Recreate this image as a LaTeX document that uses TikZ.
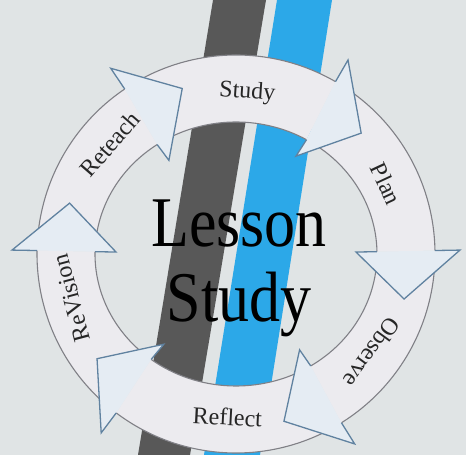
\documentclass[tikz,border=0pt]{standalone}
\usepackage{fontspec}
\setmainfont{Liberation Serif}
\definecolor{bggray}{RGB}{224,228,229}
\definecolor{stripegray}{RGB}{88,88,88}
\definecolor{stripeblue}{RGB}{44,168,232}
\definecolor{ringfill}{RGB}{236,235,239}
\definecolor{ringline}{RGB}{128,128,134}
\definecolor{headfill}{RGB}{229,236,243}
\definecolor{headline}{RGB}{96,130,160}
\definecolor{labelgray}{RGB}{38,38,38}
\tikzset{
  ringpart/.style={fill=ringfill},
  ringedge/.style={draw=ringline, line width=1.1pt},
  headpart/.style={fill=headfill, draw=headline, line width=1.3pt, line join=miter},
  cyclelabel/.style={text=labelgray, font=\fontsize{24}{26}\selectfont, inner sep=0pt},
  bigword/.style={font=\fontsize{62}{70}\selectfont, anchor=base, yscale=1.15, transform shape, inner sep=0pt}
}
\begin{document}
\begin{tikzpicture}[x=1pt,y=1pt]
		\useasboundingbox (0,0) rectangle (466,455);
		\fill[bggray] (0,0) rectangle (466,455);
		\fill[stripegray] (138,0) -- (190,0) -- (266,455) -- (213,455) -- cycle;
		\fill[stripeblue] (204,0) -- (260,0) -- (332,455) -- (277,455) -- cycle;
		
		\begin{scope}[shift={(236,201)}]
		% ring pieces
		\foreach \b/\e in {124/179, 60/124, 1/60, -58/1, -127/-58, -181/-127} {
			\fill[ringpart] (\b:199pt) arc[start angle=\b, end angle=\e, radius=199pt]
				-- (\e:141pt and 132pt) arc[start angle=\e, end angle=\b, x radius=141pt, y radius=132pt] -- cycle;
			\draw[ringedge] (\b:199pt) arc[start angle=\b, end angle=\e, radius=199pt];
			\draw[ringedge] (\b:141pt and 132pt) arc[start angle=\b, end angle=\e, x radius=141pt, y radius=132pt];
		}
		% heads
		\foreach \b in {124, 60, 1, -58, -127, -181}
			\filldraw[headpart] (\b:199pt) -- (\b:224pt) -- (\b-16:174pt) -- (\b:120pt and 113pt) -- (\b:141pt and 132pt);
		
		\node[cyclelabel, rotate=-4]   (study)    at (86:162pt)  {Study};
		\node[cyclelabel, rotate=-65]  (plan)     at (25:166pt)  {Plan};
		\node[cyclelabel, rotate=-126] (observe)  at (-36:168pt) {Observe};
		\node[cyclelabel, rotate=-3]   (reflect)  at (-93:163pt) {Reflect};
		\node[cyclelabel, rotate=105]  (revision) at (195:170pt) {ReVision};
		\node[cyclelabel, rotate=49]   (reteach)  at (139:167pt) {Reteach};
		\end{scope}
		
		\node[bigword] (lesson) at (239,208) {Lesson};
		\node[bigword] (studyword) at (239,133) {Study};
\end{tikzpicture}
\end{document}
